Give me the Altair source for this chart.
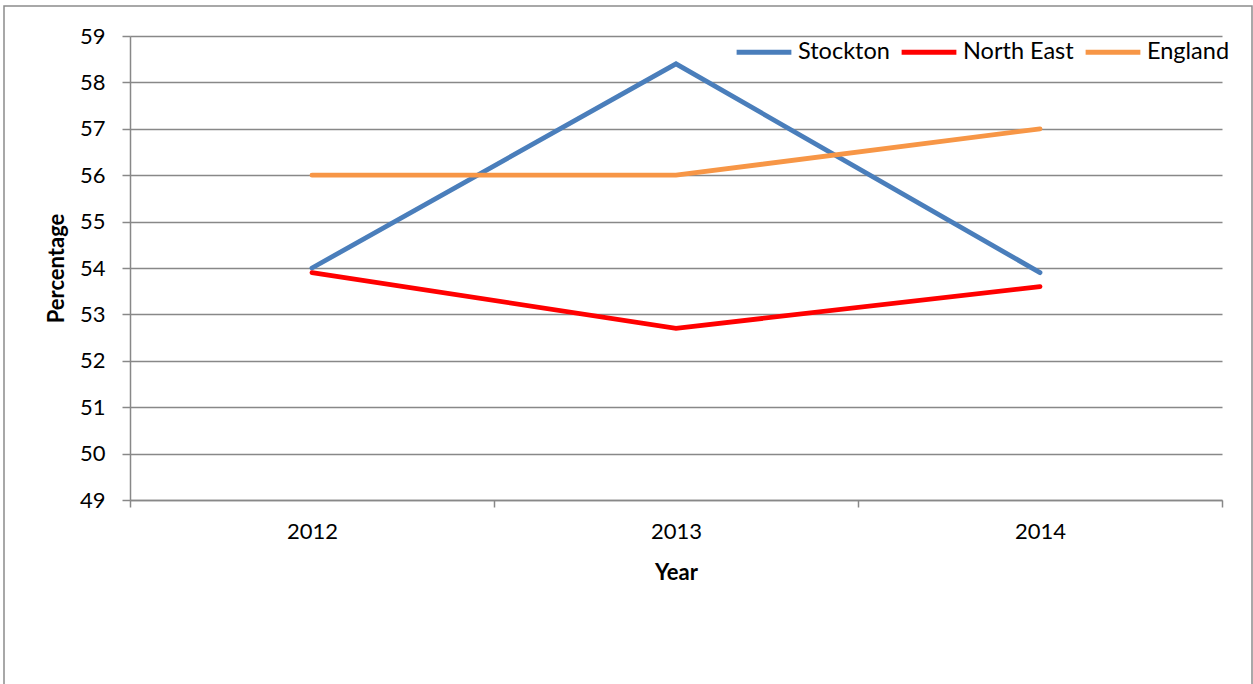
import altair as alt
import pandas as pd

years = [2012, 2013, 2014]
stockton = [54.0, 58.4, 53.9]
north_east = [53.9, 52.7, 53.6]
england = [56.0, 56.0, 57.0]
series = ["Stockton", "North East", "England"]
colors = ["#4a7ebb", "#ff0000", "#f79646"]
y_ticks = list(range(49, 60))
x_ticks = [2011.5, 2012, 2012.5, 2013, 2013.5, 2014, 2014.5]

rows = []
for name, vals in zip(series, [stockton, north_east, england]):
    for yr, v in zip(years, vals):
        rows.append({"Year": yr, "Percentage": v, "Series": name})
df = pd.DataFrame(rows)

FONT = "Lato"
FS = 22
GRID = "#888888"

lines = alt.Chart(df).mark_line(strokeWidth=4.8, strokeCap="round", strokeJoin="miter").encode(
    x=alt.X("Year:Q",
            scale=alt.Scale(domain=[2011.5, 2014.5], nice=False, zero=False),
            axis=alt.Axis(values=x_ticks, grid=False, domainColor=GRID, domainWidth=1.5,
                          tickColor=GRID, tickWidth=1.5, tickSize=7,
                          tickOpacity={"condition": {"test": "datum.value % 1 != 0", "value": 1}, "value": 0},
                          labelExpr="datum.value % 1 == 0 ? format(datum.value, 'd') : ''",
                          labelFont=FONT, labelFontSize=FS, labelColor="black", labelPadding=14,
                          title="Year", titleFont=FONT, titleFontSize=FS, titleFontWeight="bold",
                          titleColor="black", titleY=62, titleBaseline="top")),
    y=alt.Y("Percentage:Q",
            scale=alt.Scale(domain=[49, 59], nice=False, zero=False),
            axis=alt.Axis(values=y_ticks, grid=True, gridColor=GRID, gridWidth=1.5,
                          domainColor=GRID, domainWidth=1.5, tickColor=GRID, tickWidth=1.5,
                          tickSize=8, labelFont=FONT, labelFontSize=FS, labelColor="black",
                          labelPadding=17,
                          title="Percentage", titleFont=FONT, titleFontSize=FS,
                          titleFontWeight="bold", titleColor="black",
                          titleX=-62, titleY=232, titleBaseline="bottom")),
    color=alt.Color("Series:N", scale=alt.Scale(domain=series, range=colors),
                    sort=series,
                    legend=alt.Legend(orient="none", legendX=604, legendY=-14, direction="horizontal",
                                      title=None, symbolType="stroke", symbolSize=3000,
                                      symbolStrokeWidth=4.8, labelFont=FONT, labelFontSize=23.5,
                                      labelColor="black", labelOffset=4, columnPadding=2,
                                      labelLimit=300)),
)

border = alt.Chart(pd.DataFrame({"a": [0]})).mark_rect(
    fill=None, stroke="#8c8c8c", strokeWidth=1.5
).encode(x=alt.value(-126), x2=alt.value(1122), y=alt.value(-30), y2=alt.value(700))

chart = alt.layer(border, lines).properties(
    width=1092, height=464,
    autosize=alt.AutoSizeParams(type="none"),
    padding={"left": 130, "top": 36, "right": 31, "bottom": 184},
    background="white",
).configure_view(stroke=None)

chart.save("out.html", embed_options={"renderer": "svg", "actions": False})
